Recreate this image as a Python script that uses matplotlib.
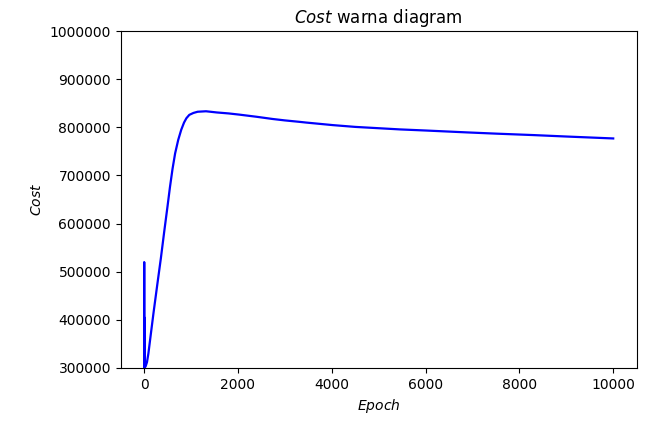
import matplotlib.pyplot as plt
import numpy as np

# early epochs: the cost jumps around before settling
early_epochs = [0, 1, 2, 3, 4, 5, 6, 7, 8, 10, 12, 15]
early_cost = [300000, 520000, 290000, 405000, 292000, 402000, 295000, 398000, 298000, 360000, 300000, 302000]

# rest of the run
late_epochs = [30, 60, 90, 135, 200, 278, 356, 427, 498, 550, 605, 660, 726, 790,
               850, 900, 962, 1050, 1140, 1318, 1550, 1800, 2030, 2400, 2735, 3000,
               3312, 3455, 4024, 4500, 5449, 6000, 6874, 7500, 8297, 9000, 9999]
late_cost = [303000, 312000, 330000, 365000, 415000, 472000, 528000, 583000, 636000,
             676000, 714000, 746000, 774000, 795000, 810000, 819000, 826000, 830000,
             832500, 833500, 831000, 829000, 826500, 822000, 817500, 814500, 811500,
             810000, 804700, 801000, 795800, 793500, 789600, 787000, 784000, 781000,
             777000]

epoch = early_epochs + late_epochs
cost = early_cost + late_cost

fig = plt.figure(figsize=(6.49, 4.21), dpi=100)
ax = fig.add_axes([0.186, 0.126, 0.795, 0.800])
ax.plot(epoch, cost, color='blue', linewidth=1.6)
ax.set_ylim(300000, 1000000)
ax.ticklabel_format(style='plain', axis='y', useOffset=False)
ax.set_title('$Cost$ warna diagram')
ax.set_xlabel('$Epoch$')
ax.set_ylabel('$Cost$')
fig.savefig('out.png')
